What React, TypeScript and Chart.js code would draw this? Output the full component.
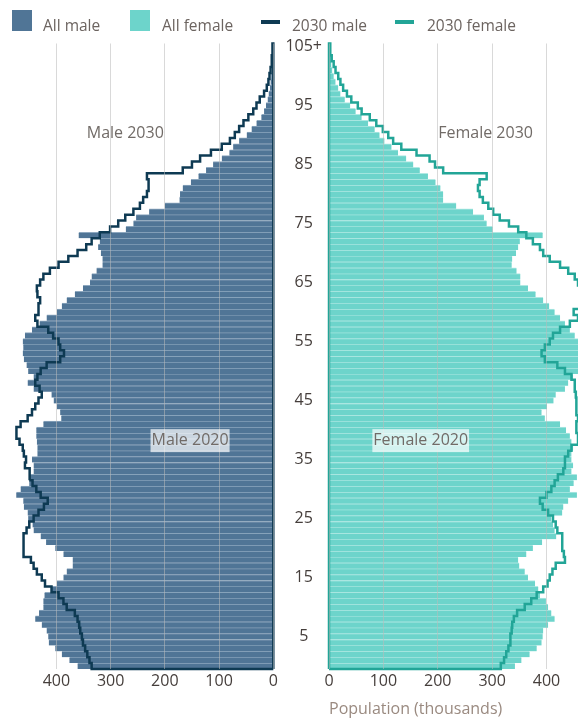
import React, { useEffect, useRef } from 'react';
import { Chart, registerables } from 'chart.js';

Chart.register(...registerables);

// ---- Data (population in thousands, by single year of age 0..105+) ----
const AGES: number[] = Array.from({ length: 106 }, (_, i) => i);

const MALE_2020: number[] = [
  361, 376, 390, 402, 414, 415, 418, 427, 439, 432,
  424, 424, 422, 410, 399, 387, 381, 370, 370, 387,
  402, 419, 429, 442, 444, 452, 453, 460, 461, 474,
  466, 450, 449, 442, 442, 445, 435, 435, 436, 437,
  437, 424, 391, 393, 399, 405, 409, 442, 453, 442,
  452, 455, 460, 462, 461, 462, 458, 445, 431, 418,
  399, 390, 381, 366, 351, 338, 335, 326, 315, 315,
  318, 323, 320, 359, 272, 258, 253, 229, 200, 173,
  172, 167, 152, 138, 124, 111, 95, 81, 74, 63,
  49, 40, 31, 22, 17, 13.5, 10.4, 8.6, 6, 5,
  3.7, 2.5, 1.6, 1, 0.6, 0.6,
];

const MALE_2030: number[] = [
  335, 339, 343, 347, 351, 353, 356, 358, 361, 366,
  381, 387, 396, 409, 421, 427, 436, 442, 447, 460,
  461, 460, 461, 455, 450, 442, 433, 423, 416, 429,
  437, 444, 450, 449, 458, 456, 460, 462, 468, 473,
  474, 466, 453, 445, 439, 433, 427, 431, 439, 435,
  429, 418, 393, 386, 393, 396, 406, 415, 435, 439,
  433, 433, 430, 435, 436, 430, 424, 412, 396, 378,
  361, 345, 335, 320, 301, 286, 273, 258, 246, 240,
  233, 230, 230, 233, 167, 150, 135, 115, 95, 80,
  71, 63, 55, 46, 37, 31, 25, 17, 12, 9,
  7, 5, 3.5, 2.5, 1.5, 1.5,
];

const FEMALE_2020: number[] = [
  342, 354, 369, 382, 391, 393, 394, 403, 415, 409,
  403, 399, 388, 385, 379, 366, 360, 350, 348, 363,
  375, 392, 418, 415, 412, 409, 429, 431, 440, 456,
  443, 450, 456, 446, 449, 446, 446, 449, 446, 443,
  436, 425, 397, 391, 401, 413, 417, 434, 440, 449,
  458, 460, 462, 464, 464, 461, 452, 443, 434, 425,
  415, 405, 394, 380, 366, 352, 352, 345, 336, 337,
  344, 348, 351, 393, 301, 290, 285, 265, 234, 210,
  210, 205, 196, 182, 167, 155, 142, 127, 115, 102,
  93, 84, 72, 60, 49, 39, 29, 21, 17, 12,
  8.6, 6, 4.3, 3, 2.2, 2,
];

const FEMALE_2030: number[] = [
  316, 322, 326, 330, 333, 334, 336, 337, 340, 346,
  360, 372, 382, 394, 402, 406, 411, 417, 434, 432,
  429, 429, 429, 420, 417, 412, 403, 393, 388, 400,
  409, 415, 421, 431, 434, 434, 440, 446, 458, 458,
  455, 455, 458, 455, 455, 455, 454, 452, 452, 446,
  434, 420, 397, 391, 397, 406, 412, 425, 443, 458,
  450, 467, 461, 467, 464, 458, 452, 440, 425, 406,
  394, 388, 375, 363, 348, 331, 314, 302, 293, 283,
  277, 274, 277, 290, 210, 195, 185, 161, 133, 118,
  109, 99, 87, 75, 60, 53, 41, 33, 26, 21,
  17, 12, 8.6, 5, 3, 2,
];

const AGE_TICKS: number[] = [5, 15, 25, 35, 45, 55, 65, 75, 85, 95, 105];
const AGE_TICK_LABELS: string[] = ['5', '15', '25', '35', '45', '55', '65', '75', '85', '95', '105+'];
const X_TICKS: number[] = [0, 100, 200, 300, 400];

const LEGEND_LABELS: string[] = ['All male', 'All female', '2030 male', '2030 female'];
const X_TITLE = 'Population (thousands)';

// in-chart text labels (data units: value, age)
const MALE_LABELS = [
  { text: 'Male 2030', value: 273, age: 90.2, boxed: false },
  { text: 'Male 2020', value: 153.5, age: 38.2, boxed: true },
];
const FEMALE_LABELS = [
  { text: 'Female 2030', value: 288, age: 90.2, boxed: false },
  { text: 'Female 2020', value: 168.7, age: 38.2, boxed: true },
];

// ---- Styles ----
const FONT = '"Open Sans", "DejaVu Sans", sans-serif';
const MALE_BAR = '#507596';
const MALE_SEP = '#8ea8bf';
const MALE_LINE = '#0e3a53';
const FEMALE_BAR = '#6dd4cb';
const FEMALE_SEP = '#b0e9e3';
const FEMALE_LINE = '#22a597';
const TICK_COLOR = '#453e3b';
const TITLE_COLOR = '#9a8a80';
const LABEL_COLOR = '#716b67';
const LEGEND_COLOR = '#6c6460';
const GRID_COLOR = 'rgba(185,185,185,0.55)';

function outline(values: number[]) {
  const pts: { x: number; y: number }[] = [{ x: 0, y: AGES[0] - 0.5 }];
  values.forEach((v, i) => {
    pts.push({ x: v, y: AGES[i] - 0.5 });
    pts.push({ x: v, y: AGES[i] + 0.5 });
  });
  pts.push({ x: 0, y: AGES[AGES.length - 1] + 0.5 });
  pts.push({ x: 0, y: AGES[0] - 0.5 });
  return pts;
}

function labelPlugin(items: { text: string; value: number; age: number; boxed: boolean }[]) {
  return {
    id: 'panelLabels',
    afterDraw(chart: any) {
      const { ctx, scales } = chart;
      const xs = scales.x;
      const ys = scales.y;
      ctx.save();
      ctx.font = `16px ${FONT}`;
      ctx.textAlign = 'center';
      ctx.textBaseline = 'middle';
      for (const it of items) {
        const px = xs.getPixelForValue(it.value);
        const py = ys.getPixelForValue(it.age);
        if (it.boxed) {
          const w = ctx.measureText(it.text).width + 2;
          ctx.fillStyle = 'rgba(255,255,255,0.7)';
          ctx.fillRect(px - w / 2, py - 11.5, w, 23);
        }
        ctx.fillStyle = LABEL_COLOR;
        ctx.fillText(it.text, px, py);
      }
      ctx.restore();
    },
  };
}

function makeConfig(isMale: boolean): any {
  const v2020 = isMale ? MALE_2020 : FEMALE_2020;
  const v2030 = isMale ? MALE_2030 : FEMALE_2030;
  return {
    type: 'bar',
    data: {
      datasets: [
        {
          type: 'line',
          label: isMale ? LEGEND_LABELS[2] : LEGEND_LABELS[3],
          data: outline(v2030),
          borderColor: isMale ? MALE_LINE : FEMALE_LINE,
          borderWidth: 2.5,
          pointRadius: 0,
          fill: false,
          tension: 0,
          borderJoinStyle: 'miter',
          indexAxis: 'y',
          clip: 4,
          order: 0,
        },
        {
          type: 'bar',
          label: isMale ? LEGEND_LABELS[0] : LEGEND_LABELS[1],
          data: AGES.map((a, i) => ({ x: v2020[i], y: a })),
          backgroundColor: isMale ? MALE_BAR : FEMALE_BAR,
          borderColor: isMale ? MALE_SEP : FEMALE_SEP,
          borderWidth: { top: 1, right: 0, bottom: 0, left: 0 },
          borderSkipped: false,
          barPercentage: 1,
          categoryPercentage: 1,
          order: 1,
        },
      ],
    },
    options: {
      indexAxis: 'y',
      animation: false,
      responsive: false,
      maintainAspectRatio: false,
      layout: {
        padding: { top: 43.5, right: isMale ? 11.7 : 0, bottom: 0, left: 0 },
      },
      plugins: {
        legend: { display: false },
        tooltip: { enabled: false },
      },
      scales: {
        x: {
          type: 'linear',
          reverse: isMale,
          min: 0,
          max: isMale ? 504 : 458,
          offset: false,
          afterBuildTicks: (s: any) => {
            s.ticks = X_TICKS.map((v) => ({ value: v }));
          },
          afterFit: (s: any) => {
            s.height = 50;
          },
          ticks: {
            padding: 3,
            color: TICK_COLOR,
            font: { family: FONT, size: 16 },
            maxRotation: 0,
          },
          grid: {
            color: GRID_COLOR,
            lineWidth: 1,
            drawTicks: false,
            z: 1,
          },
          border: { display: false },
          title: {
            display: !isMale,
            text: X_TITLE,
            align: 'start',
            color: TITLE_COLOR,
            font: { family: FONT, size: 16 },
            padding: { top: 0, bottom: 0 },
          },
        },
        y: {
          type: 'linear',
          min: -0.5,
          max: 105.5,
          offset: false,
          display: !isMale,
          afterBuildTicks: (s: any) => {
            s.ticks = AGE_TICKS.map((v) => ({ value: v }));
          },
          afterFit: (s: any) => {
            s.width = isMale ? 0 : 50;
          },
          ticks: {
            padding: -1,
            crossAlign: 'center',
            color: TICK_COLOR,
            font: { family: FONT, size: 16 },
            callback: (value: number) => {
              const idx = AGE_TICKS.indexOf(value);
              return idx >= 0 ? AGE_TICK_LABELS[idx] : '';
            },
          },
          grid: { display: false },
          border: { display: false },
        },
      },
    },
    plugins: [labelPlugin(isMale ? MALE_LABELS : FEMALE_LABELS)],
  };
}

function Panel({ isMale, left, width }: { isMale: boolean; left: number; width: number }) {
  const ref = useRef<HTMLCanvasElement | null>(null);
  useEffect(() => {
    if (!ref.current) return;
    const chart = new Chart(ref.current, makeConfig(isMale));
    return () => chart.destroy();
  }, [isMale]);
  return (
    <canvas
      ref={ref}
      width={width}
      height={719}
      style={{ position: 'absolute', left, top: 0, width, height: 719 }}
    />
  );
}

function LegendItem({ x, textX, label, color, kind }: { x: number; textX: number; label: string; color: string; kind: 'box' | 'line' }) {
  return (
    <>
      {kind === 'box' ? (
        <div style={{ position: 'absolute', left: x, top: 10, width: 20, height: 21, background: color }} />
      ) : (
        <div style={{ position: 'absolute', left: x, top: 20, width: 19, height: 4, background: color }} />
      )}
      <div
        style={{
          position: 'absolute',
          left: textX,
          top: 14.5,
          fontSize: 15.5,
          lineHeight: '20px',
          color: LEGEND_COLOR,
          whiteSpace: 'nowrap',
          fontFamily: FONT,
        }}
      >
        {label}
      </div>
    </>
  );
}

export default function App() {
  return (
    <div
      style={{
        position: 'fixed',
        left: 0,
        top: 0,
        width: 578,
        height: 719,
        overflow: 'hidden',
        background: '#ffffff',
        fontFamily: FONT,
      }}
    >
      <Panel isMale={true} left={0} width={285} />
      <Panel isMale={false} left={279} width={299} />
      <LegendItem x={12} textX={43} label={LEGEND_LABELS[0]} color={MALE_BAR} kind="box" />
      <LegendItem x={130} textX={162} label={LEGEND_LABELS[1]} color={FEMALE_BAR} kind="box" />
      <LegendItem x={261} textX={292} label={LEGEND_LABELS[2]} color={MALE_LINE} kind="line" />
      <LegendItem x={395} textX={427} label={LEGEND_LABELS[3]} color={FEMALE_LINE} kind="line" />
    </div>
  );
}
